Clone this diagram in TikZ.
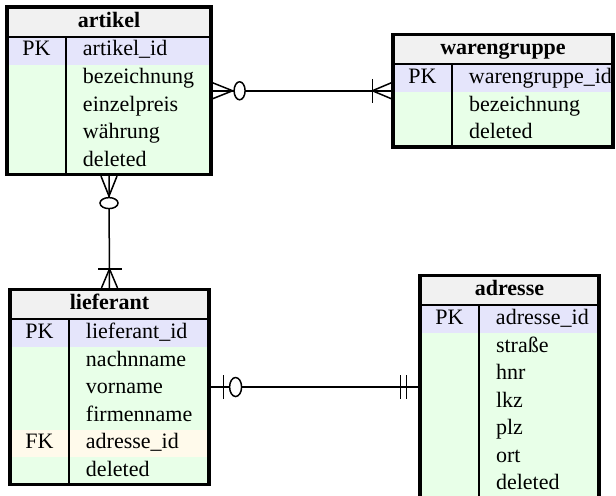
\documentclass[tikz,border=0pt]{standalone}
\usepackage{fontspec}
\setmainfont{Liberation Serif}
\usetikzlibrary{positioning,fit}
\definecolor{headfill}{HTML}{F1F1F1}
\definecolor{pkfill}{HTML}{E5E5FB}
\definecolor{rowfill}{HTML}{E8FFE8}
\definecolor{fkfill}{HTML}{FFFAEB}
\newcommand{\keycell}[1]{\makebox[29.5pt]{#1}\hspace{8.5pt}}

\begin{document}
\begin{tikzpicture}[
  x=0.5pt, y=0.5pt,
  font=\fontsize{11}{13.75}\selectfont,
  node distance=0pt,
  cell/.style={inner sep=0pt,outer sep=0pt,align=left,
               text height=7.7pt,text depth=2.3pt,minimum height=13.75pt},
  headrow/.style={cell,align=center,fill=headfill,minimum height=14.75pt,
               font=\fontsize{11}{13.75}\selectfont\bfseries},
  pkrow/.style={cell,fill=pkfill,minimum height=14pt},
  fieldrow/.style={cell,fill=rowfill},
  fkrow/.style={cell,fill=fkfill},
  frame/.style={draw=black,line width=1.6pt,inner sep=0pt},
  divider/.style={line width=1pt},
  conn/.style={line width=0.75pt,black},
  zeromany/.pic={\draw (0,8) -- (20,0) -- (0,-8);
                 \draw[fill=white] (27,0) ellipse [x radius=5.5, y radius=9];},
  onemany/.pic={\draw (0,8) -- (19,0) -- (0,-8);
                \draw (19,-12) -- (19,12);},
  zeroone/.pic={\draw (13,-12) -- (13,12);
                \draw[fill=white] (25,0) ellipse [x radius=6, y radius=9.5];},
  oneone/.pic={\draw (12,-12) -- (12,12);
               \draw (18,-12) -- (18,12);}
]
\useasboundingbox (0,0) rectangle (616,-495);

% TOP LEFT: artikel
\begin{scope}[cell/.append style={text width=102pt}]
\node[headrow,anchor=north west] (art0) at (7,-7) {artikel};
\node[pkrow,below=of art0]    (art1) {\keycell{PK}artikel\_id};
\node[fieldrow,below=of art1] (art2) {\keycell{}bezeichnung};
\node[fieldrow,below=of art2] (art3) {\keycell{}einzelpreis};
\node[fieldrow,below=of art3] (art4) {\keycell{}währung};
\node[fieldrow,below=of art4] (art5) {\keycell{}deleted};
\end{scope}
\node[frame,fit=(art0)(art5)] (artikel) {};
\draw[divider] (art0.south west) -- (art0.south east);
\draw[divider] ([xshift=29.5pt]art1.north west) -- ([xshift=29.5pt]art5.south west);

% TOP RIGHT: warengruppe
\begin{scope}[cell/.append style={text width=110pt}]
\node[headrow,anchor=north west] (wg0) at (393,-34.5) {warengruppe};
\node[pkrow,below=of wg0]    (wg1) {\keycell{PK}warengruppe\_id};
\node[fieldrow,below=of wg1] (wg2) {\keycell{}bezeichnung};
\node[fieldrow,below=of wg2] (wg3) {\keycell{}deleted};
\end{scope}
\node[frame,fit=(wg0)(wg3)] (warengruppe) {};
\draw[divider] (wg0.south west) -- (wg0.south east);
\draw[divider] ([xshift=29.5pt]wg1.north west) -- ([xshift=29.5pt]wg3.south west);

% BOTTOM LEFT: lieferant
\begin{scope}[cell/.append style={text width=99.5pt}]
\node[headrow,anchor=north west] (lf0) at (10,-289.5) {lieferant};
\node[pkrow,below=of lf0]    (lf1) {\keycell{PK}lieferant\_id};
\node[fieldrow,below=of lf1] (lf2) {\keycell{}nachnname};
\node[fieldrow,below=of lf2] (lf3) {\keycell{}vorname};
\node[fieldrow,below=of lf3] (lf4) {\keycell{}firmenname};
\node[fkrow,below=of lf4]    (lf5) {\keycell{FK}adresse\_id};
\node[fieldrow,below=of lf5] (lf6) {\keycell{}deleted};
\end{scope}
\node[frame,fit=(lf0)(lf6)] (lieferant) {};
\draw[divider] (lf0.south west) -- (lf0.south east);
\draw[divider] ([xshift=29.5pt]lf1.north west) -- ([xshift=29.5pt]lf6.south west);

% BOTTOM RIGHT: adresse
\begin{scope}[cell/.append style={text width=89.5pt}]
\node[headrow,anchor=north west] (ad0) at (420,-275.75) {adresse};
\node[pkrow,below=of ad0]    (ad1) {\keycell{PK}adresse\_id};
\node[fieldrow,below=of ad1] (ad2) {\keycell{}straße};
\node[fieldrow,below=of ad2] (ad3) {\keycell{}hnr};
\node[fieldrow,below=of ad3] (ad4) {\keycell{}lkz};
\node[fieldrow,below=of ad4] (ad5) {\keycell{}plz};
\node[fieldrow,below=of ad5] (ad6) {\keycell{}ort};
\node[fieldrow,below=of ad6] (ad7) {\keycell{}deleted};
\end{scope}
\node[frame,fit=(ad0)(ad7)] (adresse) {};
\draw[divider] (ad0.south west) -- (ad0.south east);
\draw[divider] ([xshift=29.5pt]ad1.north west) -- ([xshift=29.5pt]ad7.south west);

% relations
\draw[conn] (artikel) -- (warengruppe);
\draw[conn] (artikel) -- (lieferant);
\draw[conn] (lieferant) -- (adresse);

\pic[conn] at (artikel.east) {zeromany};
\pic[conn,rotate=180] at (warengruppe.west) {onemany};
\pic[conn,rotate=-90] at (artikel.south) {zeromany};
\pic[conn,rotate=90] at (lieferant.north) {onemany};
\pic[conn] at (lieferant.east) {zeroone};
\pic[conn,rotate=180] at (adresse.west) {oneone};
\end{tikzpicture}
\end{document}
